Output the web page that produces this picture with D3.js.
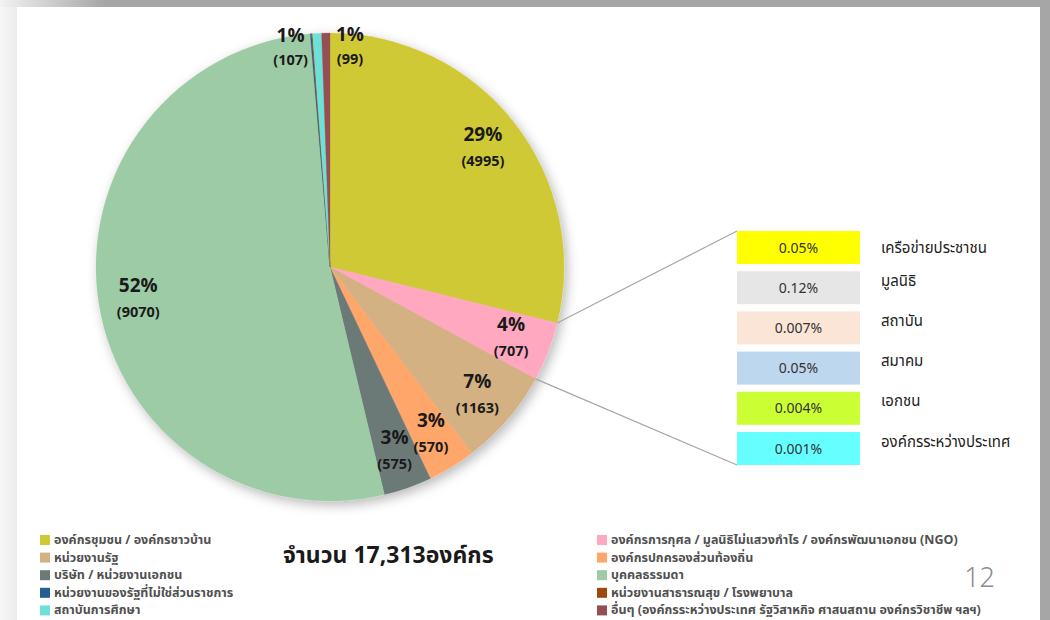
<!DOCTYPE html>
<html>
<head>
<meta charset="utf-8">
<script src="https://cdn.jsdelivr.net/npm/d3@7"></script>
<style>
  body { margin: 0; background: #a6a6a6; }
  svg { display: block; font-family: "Noto Sans Thai", "Noto Sans", "DejaVu Sans", sans-serif; }
</style>
</head>
<body>
<div class="chart"></div>
<script>
var svgWidth = 1050;
var svgHeight = 620;

// pie categories, in legend order (also clockwise order from 12 o'clock)
var categories = [
    "องค์กรชุมชน / องค์กรชาวบ้าน",
    "องค์กรการกุศล / มูลนิธิไม่แสวงกำไร / องค์กรพัฒนาเอกชน (NGO)",
    "หน่วยงานรัฐ",
    "องค์กรปกครองส่วนท้องถิ่น",
    "บริษัท / หน่วยงานเอกชน",
    "บุคคลธรรมดา",
    "หน่วยงานของรัฐที่ไม่ใช่ส่วนราชการ",
    "หน่วยงานสาธารณสุข / โรงพยาบาล",
    "สถาบันการศึกษา",
    "อื่นๆ  (องค์กรระหว่างประเทศ รัฐวิสาหกิจ ศาสนสถาน องค์กรวิชาชีพ ฯลฯ)"
];
var counts = [4995, 707, 1163, 570, 575, 9070, 15, 12, 107, 99];
var percentLabels = ["29%", "4%", "7%", "3%", "3%", "52%", "", "", "1%", "1%"];
var colors = ["#cfc935", "#ffa8c0", "#d4b183", "#ffa76b", "#6c7a77", "#9dcba5",
              "#255e91", "#9e480e", "#6ee0d8", "#954f52"];

// breakdown of the NGO slice
var breakdownValues = ["0.05%", "0.12%", "0.007%", "0.05%", "0.004%", "0.001%"];
var breakdownLabels = ["เครือข่ายประชาชน", "มูลนิธิ", "สถาบัน", "สมาคม", "เอกชน", "องค์กรระหว่างประเทศ"];
var breakdownColors = ["#ffff00", "#e6e6e6", "#fbe5d6", "#bdd7ee", "#ccff33", "#66ffff"];

var totalText = "จำนวน 17,313องค์กร";
var pageNumber = "12";

var svg = d3.select(".chart")
    .append("svg")
    .attr("width", svgWidth)
    .attr("height", svgHeight);

// slide frame
var defs = svg.append("defs");
var grad = defs.append("linearGradient").attr("id", "leftGrad")
    .attr("x1", "0").attr("x2", "1").attr("y1", "0").attr("y2", "0");
grad.append("stop").attr("offset", "0").attr("stop-color", "#f7f7f7");
grad.append("stop").attr("offset", "1").attr("stop-color", "#ececec");
var topGrad = defs.append("linearGradient").attr("id", "topGrad")
    .attr("x1", "0").attr("x2", "1").attr("y1", "0").attr("y2", "0");
topGrad.append("stop").attr("offset", "0").attr("stop-color", "#f2f2f2");
topGrad.append("stop").attr("offset", "0.1").attr("stop-color", "#a6a6a6");
topGrad.append("stop").attr("offset", "1").attr("stop-color", "#a6a6a6");

svg.append("rect").attr("width", svgWidth).attr("height", svgHeight).attr("fill", "#a6a6a6");
svg.append("rect").attr("width", svgWidth).attr("height", 7).attr("fill", "url(#topGrad)");
svg.append("rect").attr("y", 7).attr("width", 17).attr("height", svgHeight - 7).attr("fill", "url(#leftGrad)");
svg.append("rect").attr("x", 17).attr("y", 7).attr("width", 1023).attr("height", svgHeight - 7).attr("fill", "#ffffff");

var shadow = defs.append("filter").attr("id", "pieShadow")
    .attr("x", "-20%").attr("y", "-20%").attr("width", "140%").attr("height", "140%");
shadow.append("feDropShadow")
    .attr("dx", 3).attr("dy", 4).attr("stdDeviation", 6)
    .attr("flood-color", "#000").attr("flood-opacity", 0.28);

// pie
var cx = 330, cy = 267, radius = 234;

var pie = d3.pie().sort(null).value(d => d.count);
var data = categories.map((c, i) => ({ name: c, count: counts[i], pct: percentLabels[i], color: colors[i] }));
var arcs = pie(data);

var arc = d3.arc().innerRadius(0).outerRadius(radius);
var labelArc = d3.arc().innerRadius(radius * 0.83).outerRadius(radius * 0.83);
var topArc = d3.arc().innerRadius(radius * 0.96).outerRadius(radius * 0.96);

var pieGroup = svg.append("g").attr("transform", `translate(${cx}, ${cy})`);

pieGroup.append("g")
    .attr("filter", "url(#pieShadow)")
    .selectAll("path")
    .data(arcs)
    .enter()
    .append("path")
    .attr("d", arc)
    .attr("fill", d => d.data.color)
    .attr("stroke", d => d.data.color)
    .attr("stroke-width", 0.3);

// callout lines from NGO slice edges to the breakdown column
var ngo = arcs[1];
var boxX = 737, boxW = 123, boxH = 33, boxTop = 231, boxStep = 40.2;
var boxY = d3.scaleLinear().domain([0, 1]).range([boxTop, boxTop + boxStep]);

var edgeStart = [Math.sin(ngo.startAngle) * radius, -Math.cos(ngo.startAngle) * radius];
var edgeEnd = [Math.sin(ngo.endAngle) * radius, -Math.cos(ngo.endAngle) * radius];

svg.append("line")
    .attr("x1", cx + edgeStart[0]).attr("y1", cy + edgeStart[1])
    .attr("x2", boxX).attr("y2", boxY(0))
    .attr("stroke", "#a6a6a6").attr("stroke-width", 1.2);
svg.append("line")
    .attr("x1", cx + edgeEnd[0]).attr("y1", cy + edgeEnd[1])
    .attr("x2", boxX).attr("y2", boxY(breakdownValues.length - 1) + boxH)
    .attr("stroke", "#a6a6a6").attr("stroke-width", 1.2);

// pie labels
var mainLabels = arcs.filter(d => d.data.pct !== "" && d.data.count > 200);
var labelGroup = pieGroup.selectAll(".plabel")
    .data(mainLabels)
    .enter()
    .append("g")
    .attr("class", "plabel")
    .attr("transform", d => `translate(${labelArc.centroid(d)})`);

labelGroup.append("text")
    .attr("text-anchor", "middle")
    .attr("y", -6)
    .attr("font-size", "19px")
    .attr("font-weight", "bold")
    .attr("fill", "#1a1a1a")
    .text(d => d.data.pct);

labelGroup.append("text")
    .attr("text-anchor", "middle")
    .attr("y", 19)
    .attr("font-size", "14.5px")
    .attr("font-weight", "bold")
    .attr("fill", "#1a1a1a")
    .text(d => "(" + d.data.count + ")");

// the two small slices at the top, labelled beside their slivers
var smallLabels = arcs.filter(d => d.data.pct !== "" && d.data.count <= 200);
var smallGroup = pieGroup.selectAll(".slabel")
    .data(smallLabels)
    .enter()
    .append("g")
    .attr("class", "slabel")
    .attr("transform", (d, i) => {
        var c = topArc.centroid(d);
        return `translate(${c[0] + (i === 0 ? -27 : 24)}, ${c[1]})`;
    });

smallGroup.append("text")
    .attr("text-anchor", "middle")
    .attr("y", -1)
    .attr("font-size", "19px")
    .attr("font-weight", "bold")
    .attr("fill", "#1a1a1a")
    .text(d => d.data.pct);

smallGroup.append("text")
    .attr("text-anchor", "middle")
    .attr("y", 22)
    .attr("font-size", "14.5px")
    .attr("font-weight", "bold")
    .attr("fill", "#1a1a1a")
    .text(d => "(" + d.data.count + ")");

// breakdown boxes
var boxes = svg.selectAll(".bbox")
    .data(breakdownValues)
    .enter()
    .append("g")
    .attr("class", "bbox")
    .attr("transform", (d, i) => `translate(${boxX}, ${boxY(i)})`);

boxes.append("rect")
    .attr("width", boxW)
    .attr("height", boxH)
    .attr("fill", (d, i) => breakdownColors[i]);

boxes.append("text")
    .attr("x", boxW / 2)
    .attr("y", boxH / 2 + 5)
    .attr("text-anchor", "middle")
    .attr("font-size", "14px")
    .attr("fill", "#333333")
    .text(d => d);

boxes.append("text")
    .attr("x", 144)
    .attr("y", (d, i) => i === 0 ? boxH / 2 + 5 : boxH / 2 - 2)
    .attr("font-size", "15px")
    .attr("fill", "#222222")
    .text((d, i) => breakdownLabels[i]);

// legend, two columns
var legend = svg.selectAll(".legend")
    .data(data)
    .enter()
    .append("g")
    .attr("class", "legend")
    .attr("transform", (d, i) => `translate(${i % 2 === 0 ? 40 : 597}, ${540 + Math.floor(i / 2) * 17.6})`);

legend.append("rect")
    .attr("x", 0)
    .attr("y", -5)
    .attr("width", 10)
    .attr("height", 10)
    .attr("fill", d => d.color);

legend.append("text")
    .attr("x", 14)
    .attr("y", 4)
    .attr("font-size", "12.5px")
    .attr("font-weight", "bold")
    .attr("fill", "#505050")
    .text(d => d.name);

// total
svg.append("text")
    .attr("x", 283)
    .attr("y", 563)
    .attr("font-size", "23px")
    .attr("font-weight", "bold")
    .attr("fill", "#1a1a1a")
    .text(totalText);

// slide number
svg.append("text")
    .attr("x", 995)
    .attr("y", 587)
    .attr("text-anchor", "end")
    .attr("font-size", "27px")
    .attr("font-weight", "300")
    .attr("fill", "#8c8c8c")
    .text(pageNumber);
</script>
</body>
</html>
